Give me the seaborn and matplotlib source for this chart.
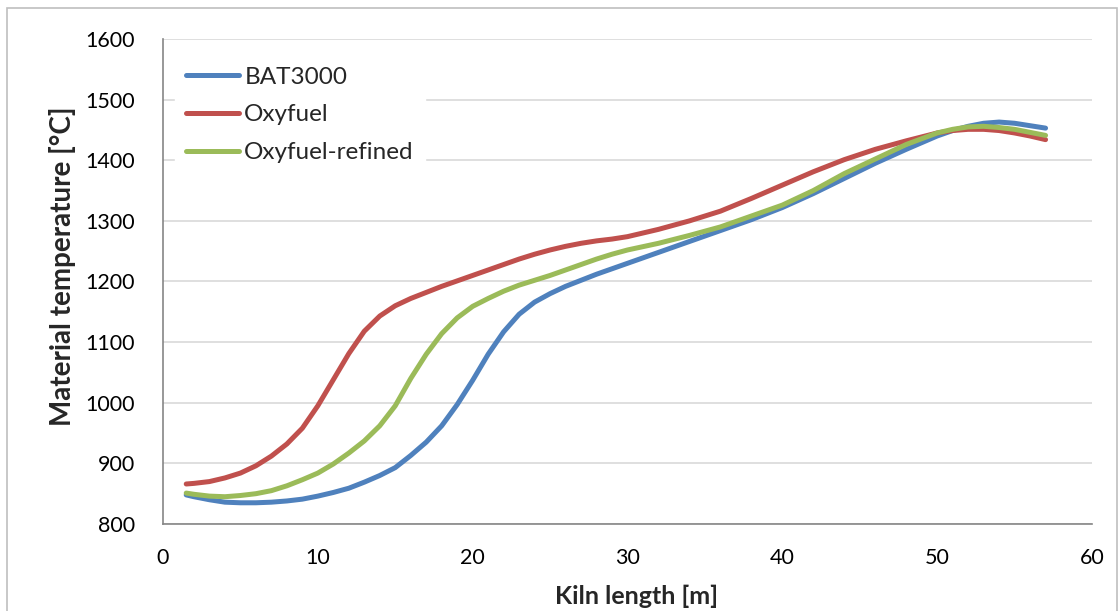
import matplotlib
matplotlib.use("Agg")
import matplotlib.pyplot as plt
import seaborn as sns
import pandas as pd
from matplotlib.patches import Rectangle

kiln_length = [1.5, 2, 3, 4, 5, 6, 7, 8, 9, 10, 11, 12, 13, 14, 15, 16, 17, 18, 19, 20,
               21, 22, 23, 24, 25, 26, 27, 28, 29, 30, 32, 34, 36, 38, 40, 42, 44, 46,
               48, 50, 51, 52, 53, 54, 55, 56, 57]
bat3000 = [848, 845, 840, 836, 835, 835, 836, 838, 841, 846, 852, 859, 869, 880, 893,
           913, 935, 962, 997, 1037, 1080, 1117, 1146, 1166, 1180, 1192, 1202, 1212,
           1221, 1230, 1248, 1266, 1284, 1302, 1322, 1345, 1370, 1395, 1418, 1440,
           1449, 1456, 1461, 1463, 1461, 1457, 1453]
oxyfuel = [866, 867, 870, 876, 884, 896, 912, 932, 958, 995, 1038, 1081, 1118, 1143,
           1160, 1172, 1182, 1192, 1201, 1210, 1219, 1228, 1237, 1245, 1252, 1258,
           1263, 1267, 1270, 1274, 1286, 1300, 1316, 1337, 1359, 1381, 1401, 1418,
           1432, 1445, 1449, 1451, 1451, 1449, 1445, 1440, 1434]
oxyfuel_refined = [851, 849, 846, 845, 847, 850, 855, 863, 873, 884, 899, 917, 937,
                   962, 995, 1040, 1080, 1114, 1140, 1159, 1172, 1184, 1194, 1202,
                   1210, 1219, 1228, 1237, 1245, 1252, 1263, 1276, 1290, 1308, 1326,
                   1350, 1378, 1402, 1426, 1445, 1451, 1455, 1456, 1454, 1451, 1446,
                   1441]
series_names = ["BAT3000", "Oxyfuel", "Oxyfuel-refined"]
colors = ["#4F81BD", "#C0504D", "#9BBB59"]
x_ticks = [0, 10, 20, 30, 40, 50, 60]
y_ticks = [800, 900, 1000, 1100, 1200, 1300, 1400, 1500, 1600]

frames = []
for name, vals in zip(series_names, [bat3000, oxyfuel, oxyfuel_refined]):
    frames.append(pd.DataFrame({"x": kiln_length, "y": vals, "series": name}))
df = pd.concat(frames, ignore_index=True)

sns.set_theme(style="white")
plt.rcParams["font.family"] = ["Lato", "DejaVu Sans"]

fig = plt.figure(figsize=(11.2, 6.11), dpi=100)
ax = fig.add_axes([163/1120, 1 - 524/611, (1092-163)/1120, (524-39)/611])

sns.lineplot(data=df, x="x", y="y", hue="series", palette=colors,
             hue_order=series_names, linewidth=3.6, ax=ax, legend=True,
             sort=False)
for ln in ax.get_lines():
    ln.set_solid_capstyle("round")
    ln.set_solid_joinstyle("round")

ax.set_xlim(0, 60)
ax.set_ylim(800, 1600)
ax.set_xticks(x_ticks)
ax.set_yticks(y_ticks)
ax.tick_params(axis="both", labelsize=15.5, colors="#000000", length=6, width=1.2,
               direction="out")
ax.tick_params(axis="x", color="#868686", pad=11)
ax.tick_params(axis="y", color="#868686", pad=14)
ax.yaxis.grid(True, color="#D9D9D9", linewidth=1.2)
ax.xaxis.grid(False)
ax.set_axisbelow(True)
for s in ["top", "right"]:
    ax.spines[s].set_visible(False)
for s in ["left", "bottom"]:
    ax.spines[s].set_color("#868686")
    ax.spines[s].set_linewidth(1.2)

ax.set_xlabel("Kiln length [m]", fontsize=18, fontweight="bold")
ax.set_ylabel("Material temperature [°C]", fontsize=20, fontweight="bold")
ax.xaxis.set_label_coords(0.5097, -0.126)
ax.yaxis.set_label_coords(-0.094, 0.531)

handles, labels = ax.get_legend_handles_labels()
leg = ax.legend(handles, labels, loc="upper left", bbox_to_anchor=(0.013, 0.965),
                frameon=True, fontsize=17.5, handlelength=2.2, handletextpad=0.2,
                labelspacing=0.68, borderpad=0.45, borderaxespad=0.0, fancybox=False)
leg.get_frame().set_edgecolor("white")
leg.get_frame().set_facecolor("white")
leg.get_frame().set_alpha(1)
for line in leg.get_lines():
    line.set_linewidth(3.6)
    line.set_solid_capstyle("round")

fig.patches.append(Rectangle((7/1120, -0.01), (1117-7)/1120, 1 - 8/611 + 0.01,
                             transform=fig.transFigure, fill=False,
                             edgecolor="#BFBFBF", linewidth=1.2))

fig.savefig("out.png", dpi=100)
